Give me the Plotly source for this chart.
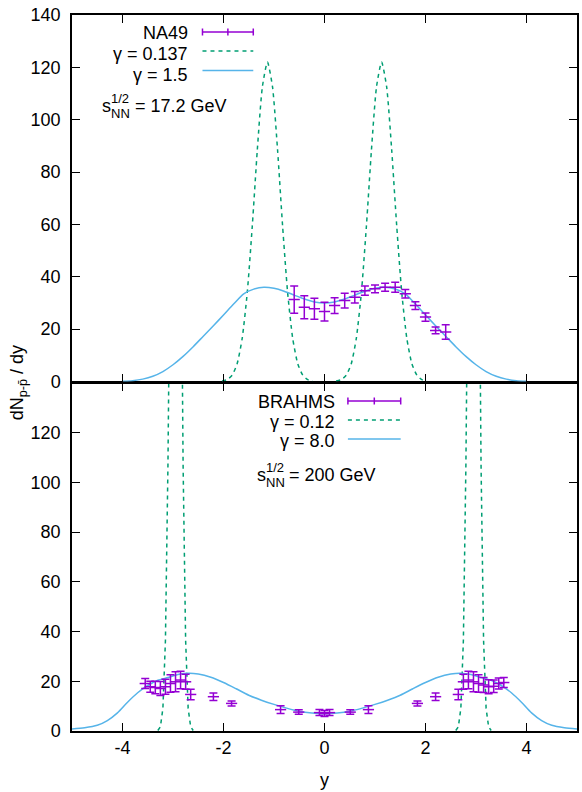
import plotly.graph_objects as go

# ---------------- data ----------------
# NA49, sqrt(s_NN) = 17.2 GeV : net-proton rapidity density
na49_y = [-0.6, -0.4, -0.2, 0.0, 0.2, 0.4, 0.6, 0.8, 1.0, 1.2, 1.4, 1.6, 1.8, 2.0, 2.2, 2.4]
na49_dndy = [31.3, 28.4, 27.8, 26.7, 29.0, 30.9, 32.2, 34.7, 35.4, 36.0, 36.0, 33.5, 29.0, 24.6, 19.5, 18.9]
na49_err = [5.2, 4.4, 4.0, 3.6, 3.0, 2.8, 2.2, 1.8, 1.5, 1.5, 1.9, 1.6, 1.5, 1.6, 1.3, 2.8]

# model, gamma = 0.137 (None separates the two peaks)
g0137_y = [-2.03, -1.93, -1.83, -1.73, -1.63, -1.53, -1.43, -1.33, -1.23, -1.13,
           -1.03, -0.93, -0.83, -0.73, -0.63, -0.53, -0.43, -0.33, -0.23, 0.0,
           0.23, 0.33, 0.43, 0.53, 0.63, 0.73, 0.83, 0.93, 1.03, 1.13,
           1.23, 1.33, 1.43, 1.53, 1.63, 1.73, 1.83, 1.93, 2.03]
g0137_dndy = [0.2, 0.7, 2.4, 6.8, 16.5, 33.9, 59.4, 88.6, 112.6, 122.0,
              112.6, 88.6, 59.4, 33.9, 16.5, 6.8, 2.4, 0.7, 0.2, None,
              0.2, 0.7, 2.4, 6.8, 16.5, 33.9, 59.4, 88.6, 112.6, 122.0,
              112.6, 88.6, 59.4, 33.9, 16.5, 6.8, 2.4, 0.7, 0.2]

# model, gamma = 1.5
g15_y = [-4.0, -3.8, -3.6, -3.4, -3.2, -3.0, -2.8, -2.6, -2.4, -2.2, -2.0, -1.8, -1.6,
         -1.4, -1.2, -1.0, -0.8, -0.6, -0.4, -0.2, 0.0, 0.2, 0.4, 0.6, 0.8, 1.0, 1.2,
         1.4, 1.6, 1.8, 2.0, 2.2, 2.4, 2.6, 2.8, 3.0, 3.2, 3.4, 3.6, 3.8, 4.0]
g15_dndy = [0.05, 0.3, 0.9, 2.0, 3.8, 6.4, 9.6, 13.3, 17.3, 21.3, 25.4, 29.6, 33.5,
            35.3, 36.0, 35.6, 34.5, 33.0, 31.5, 30.4, 30.0, 30.4, 31.5, 33.0, 34.5, 35.6, 36.0,
            35.3, 33.5, 29.6, 25.4, 21.3, 17.3, 13.3, 9.6, 6.4, 3.8, 2.0, 0.9, 0.3, 0.05]

# BRAHMS, sqrt(s_NN) = 200 GeV
brahms_y = [-3.55, -3.45, -3.35, -3.25, -3.15, -3.05, -2.95, -2.85, -2.75, -2.65,
            -2.2, -1.84, -0.87, -0.51, -0.1, 0.0, 0.1, 0.51, 0.87, 1.84, 2.2,
            2.65, 2.75, 2.85, 2.95, 3.05, 3.15, 3.25, 3.35, 3.45, 3.55]
brahms_dndy = [19.1, 17.8, 17.5, 17.1, 17.8, 19.1, 19.8, 20.5, 19.8, 14.7,
               13.8, 11.1, 8.6, 7.6, 7.4, 7.0, 7.4, 7.6, 8.6, 11.1, 13.8,
               14.7, 19.8, 20.5, 19.8, 19.1, 18.5, 17.8, 18.0, 19.1, 19.5]
brahms_err = [2.0, 2.2, 2.5, 2.8, 3.0, 3.5, 4.0, 3.5, 3.0, 2.1,
              1.5, 1.0, 1.6, 0.9, 1.2, 1.2, 1.2, 0.9, 1.6, 1.0, 1.5,
              2.1, 3.0, 3.5, 4.0, 3.5, 3.0, 2.8, 2.5, 2.2, 2.0]

# model, gamma = 0.12 (None separates the two spikes)
g012_y = [-3.30, -3.25, -3.20, -3.15, -3.10, -3.05, -3.00, -2.95, -2.90, -2.85,
          -2.80, -2.75, -2.70, -2.65, -2.60, 0.0, 2.60, 2.65, 2.70, 2.75, 2.80,
          2.85, 2.90, 2.95, 3.00, 3.05, 3.10, 3.15, 3.20, 3.25, 3.30]
g012_dndy = [0.22, 1.66, 9.1, 36.4, 107.0, 232.0, 369.0, 430.0, 369.0, 232.0,
             107.0, 36.4, 9.1, 1.66, 0.22, None, 0.22, 1.66, 9.1, 36.4, 107.0,
             232.0, 369.0, 430.0, 369.0, 232.0, 107.0, 36.4, 9.1, 1.66, 0.22]

# model, gamma = 8.0
g8_y = [-5.0, -4.75, -4.5, -4.3, -4.1, -3.9, -3.7, -3.5, -3.3, -3.1, -2.9, -2.7, -2.5, -2.25,
        -2.0, -1.75, -1.5, -1.25, -1.0, -0.75, -0.5, -0.25, 0.0, 0.25, 0.5, 0.75, 1.0,
        1.25, 1.5, 1.75, 2.0, 2.25, 2.5, 2.7, 2.9, 3.1, 3.3, 3.5, 3.7, 3.9, 4.1, 4.3,
        4.5, 4.75, 5.0]
g8_dndy = [0.8, 1.3, 2.3, 4.2, 7.3, 11.6, 15.4, 18.3, 20.4, 21.5, 22.7, 23.2, 22.9, 21.6,
           19.5, 17.0, 14.4, 12.4, 10.7, 9.2, 7.9, 7.2, 6.9, 7.2, 7.9, 9.2, 10.7,
           12.4, 14.4, 17.0, 19.5, 21.6, 22.9, 23.2, 22.7, 21.5, 20.4, 18.3, 15.4, 11.6, 7.3, 4.2,
           2.3, 1.3, 0.8]

x_ticks = [-4, -2, 0, 2, 4]
x_tick_text = ["-4", "-2", "0", "2", "4"]
top_y_ticks = [0, 20, 40, 60, 80, 100, 120, 140]
bottom_y_ticks = [0, 20, 40, 60, 80, 100, 120]

# ---------------- style ----------------
PURPLE = "#9400D3"
GREEN = "#009E73"
BLUE = "#56B4E9"
FONT = "Liberation Sans, Arial, sans-serif"
W, H = 582, 792
L, R, T, B = 72, 3, 15, 61
LW = 1.5                       # frame line width
PLOT_H = H - T - B
SPLIT = 348 / PLOT_H           # boundary between the two panels (paper fraction)
TOP_START = SPLIT + LW / PLOT_H  # lets the two frame lines at the boundary coincide


def px(xp):
    return (xp - L) / (W - L - R)


def py(yp):
    return (H - B - yp) / PLOT_H


fig = go.Figure()

# top panel (x2, y2)
fig.add_trace(go.Scatter(x=g0137_y, y=g0137_dndy, mode="lines", xaxis="x2", yaxis="y2",
                         line=dict(color=GREEN, width=1.5, dash="4px,4px", shape="spline", smoothing=0.6)))
fig.add_trace(go.Scatter(x=g15_y, y=g15_dndy, mode="lines", xaxis="x2", yaxis="y2",
                         line=dict(color=BLUE, width=1.5, shape="spline", smoothing=0.7)))
fig.add_trace(go.Scatter(x=na49_y, y=na49_dndy, mode="markers", xaxis="x2", yaxis="y2",
                         marker=dict(symbol="line-ew", size=8, line=dict(color=PURPLE, width=1.5)),
                         error_y=dict(type="data", array=na49_err, color=PURPLE, thickness=1.5, width=4)))

# bottom panel (x, y)
fig.add_trace(go.Scatter(x=g012_y, y=g012_dndy, mode="lines", xaxis="x", yaxis="y",
                         line=dict(color=GREEN, width=1.5, dash="4px,4px")))
fig.add_trace(go.Scatter(x=g8_y, y=g8_dndy, mode="lines", xaxis="x", yaxis="y",
                         line=dict(color=BLUE, width=1.5, shape="spline", smoothing=0.7)))
fig.add_trace(go.Scatter(x=brahms_y, y=brahms_dndy, mode="markers", xaxis="x", yaxis="y",
                         marker=dict(symbol="line-ew", size=8, line=dict(color=PURPLE, width=1.5)),
                         error_y=dict(type="data", array=brahms_err, color=PURPLE, thickness=1.5, width=4)))

axis_common = dict(showline=True, linecolor="black", linewidth=LW, mirror="allticks",
                   ticks="inside", ticklen=8, tickwidth=1.2, tickcolor="black",
                   showgrid=False, zeroline=False,
                   tickfont=dict(family=FONT, size=18, color="black"))

fig.update_layout(
    width=W, height=H,
    margin=dict(l=L, r=R, t=T, b=B),
    paper_bgcolor="white", plot_bgcolor="white",
    showlegend=False,
    font=dict(family=FONT, size=18, color="black"),
    xaxis=dict(domain=[0, 1], range=[-5, 5], anchor="y", tickvals=x_ticks, ticktext=x_tick_text,
               title=dict(text="y", standoff=16, font=dict(family=FONT, size=18)), **axis_common),
    yaxis=dict(domain=[0, SPLIT], range=[0, 140], anchor="x", tickvals=bottom_y_ticks,
               ticklabelstandoff=6, **axis_common),
    xaxis2=dict(domain=[0, 1], range=[-5, 5], anchor="y2", tickvals=x_ticks,
                showticklabels=False, matches="x", **axis_common),
    yaxis2=dict(domain=[TOP_START, 1], range=[0, 140], anchor="x2", tickvals=top_y_ticks,
                ticklabelstandoff=6, **axis_common),
)

annotations = []
shapes = []


def text(t, xp, yp, anchor="right", size=18):
    annotations.append(dict(text=t, x=px(xp), y=py(yp), xref="paper", yref="paper",
                            xanchor=anchor, yanchor="middle", showarrow=False,
                            font=dict(family=FONT, size=size, color="black")))


def seg(x0, y0, x1, y1, color, dash="solid"):
    shapes.append(dict(type="line", xref="paper", yref="paper",
                       x0=px(x0), y0=py(y0), x1=px(x1), y1=py(y1),
                       line=dict(color=color, width=1.5, dash=dash)))


def errkey(x0, x1, yk):
    seg(x0, yk, x1, yk, PURPLE)
    for xc in (x0, (x0 + x1) / 2, x1):
        seg(xc, yk - 3.5, xc, yk + 3.5, PURPLE)


# key, top panel
text("NA49", 190, 33)
errkey(203, 254, 32)
text("γ = 0.137", 190, 54)
seg(203, 51, 254, 51, GREEN, "4px,4px")
text("γ = 1.5", 190, 75)
seg(203, 70.5, 254, 70.5, BLUE)
text("s", 100, 106, "left")
text("1/2", 109, 98, "left", 13)
text("NN", 109, 113, "left", 13)
text("= 17.2 GeV", 133, 106, "left")

# key, bottom panel
text("BRAHMS", 338, 402)
errkey(349, 402, 401)
text("γ = 0.12", 338, 422)
seg(349, 420, 402, 420, GREEN, "4px,4px")
text("γ = 8.0", 338, 441)
seg(349, 439, 402, 439, BLUE)
text("s", 256, 475, "left")
text("1/2", 265, 467, "left", 13)
text("NN", 265, 482, "left", 13)
text("= 200 GeV", 288, 475, "left")

# vertical axis title
annotations.append(dict(text="dN<sub>p-p\u0304</sub> / dy", x=px(18), y=py(383),
                        xref="paper", yref="paper", xanchor="center", yanchor="middle",
                        textangle=-90, showarrow=False,
                        font=dict(family=FONT, size=18, color="black")))

fig.update_layout(annotations=annotations, shapes=shapes)
fig.write_html("out.html")
